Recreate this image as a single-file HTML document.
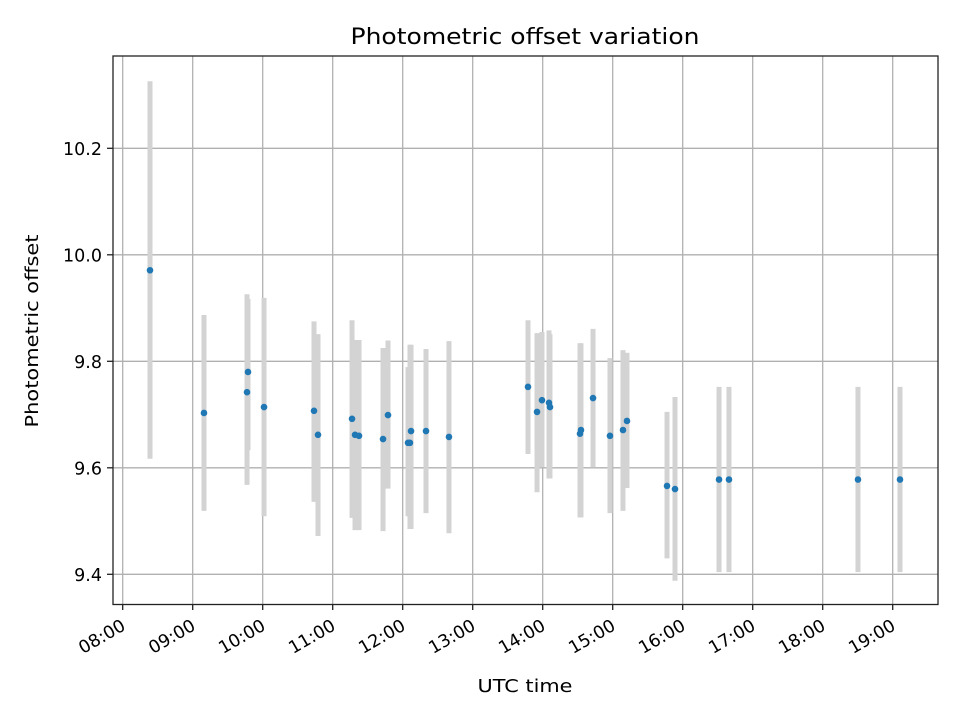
<!DOCTYPE html>
<html><head><meta charset="utf-8"><style>
body{margin:0;background:#fff;}
svg{display:block;font-family:"DejaVu Sans","Liberation Sans",sans-serif;}
</style></head><body>
<svg id="chart" width="960" height="720" viewBox="0 0 960 720">
<rect x="0" y="0" width="960" height="720" fill="#fff"/>
<g id="grid"></g>
<g id="bars"></g>
<g id="pts"></g>
<rect x="113" y="56" width="825" height="548.5" fill="none" stroke="#222" stroke-width="1.3"/>
<g id="xt"></g>
<g id="yt"></g>
<text x="525" y="44" font-size="22" text-anchor="middle" textLength="349" lengthAdjust="spacingAndGlyphs">Photometric offset variation</text>
<text x="525" y="692" font-size="18" text-anchor="middle" textLength="95" lengthAdjust="spacingAndGlyphs">UTC time</text>
<text transform="translate(38,331) rotate(-90)" font-size="18" text-anchor="middle" textLength="193" lengthAdjust="spacingAndGlyphs">Photometric offset</text>
</svg>
<script>
const times=[8.390,9.161,9.776,9.790,10.019,10.733,10.790,11.276,11.319,11.376,11.719,11.790,12.076,12.104,12.119,12.333,12.661,13.790,13.919,13.990,14.090,14.104,14.533,14.547,14.719,14.961,15.147,15.204,15.776,15.890,16.519,16.661,18.504,19.104];
const offsets=[9.971,9.703,9.742,9.780,9.714,9.707,9.662,9.692,9.662,9.660,9.654,9.699,9.647,9.647,9.669,9.669,9.658,9.752,9.705,9.727,9.722,9.714,9.664,9.671,9.731,9.660,9.671,9.688,9.566,9.560,9.578,9.578,9.578,9.578];
const lows=[9.617,9.519,9.568,9.633,9.509,9.536,9.472,9.506,9.483,9.483,9.481,9.561,9.509,9.485,9.485,9.515,9.477,9.626,9.554,9.601,9.580,9.580,9.507,9.507,9.601,9.515,9.519,9.562,9.430,9.388,9.404,9.404,9.404,9.404];
const highs=[10.326,9.887,9.926,9.917,9.919,9.875,9.851,9.877,9.840,9.840,9.825,9.839,9.789,9.831,9.831,9.823,9.838,9.877,9.853,9.855,9.858,9.851,9.834,9.834,9.861,9.806,9.821,9.816,9.705,9.733,9.752,9.752,9.752,9.752];
const xTickHours=[8,9,10,11,12,13,14,15,16,17,18,19];
const xTickLabels=["08:00","09:00","10:00","11:00","12:00","13:00","14:00","15:00","16:00","17:00","18:00","19:00"];
const yTicks=[9.4,9.6,9.8,10.0,10.2];
const yTickLabels=["9.4","9.6","9.8","10.0","10.2"];

const NS="http://www.w3.org/2000/svg";
function xs(h){return 122.7+(h-8)*70;}
function ys(v){return 254.8-(v-10)*532.5;}
function mk(tag,attrs,parent){const e=document.createElementNS(NS,tag);for(const k in attrs)e.setAttribute(k,attrs[k]);parent.appendChild(e);return e;}
const grid=document.getElementById('grid'),bars=document.getElementById('bars'),pts=document.getElementById('pts'),xt=document.getElementById('xt'),yt=document.getElementById('yt');
xTickHours.forEach((h,i)=>{
  const x=xs(h);
  const g=mk('line',{x1:x,x2:x,y1:56,y2:604.5,stroke:'#b0b0b0','stroke-width':1.3},grid);
  
  
  const t=mk('line',{x1:x,x2:x,y1:604.5,y2:610,stroke:'#222','stroke-width':1.3},xt);
  
  
  const l=mk('text',{x:0,y:0,'font-size':17.5,'text-anchor':'end',transform:`translate(${x+4},629) rotate(-30)`},xt);
  l.textContent=xTickLabels[i];
  
  
});
yTicks.forEach((v,i)=>{
  const y=ys(v);
  const g=mk('line',{x1:113,x2:938,y1:y,y2:y,stroke:'#b0b0b0','stroke-width':1.3},grid);
  
  
  const t=mk('line',{x1:107,x2:113,y1:y,y2:y,stroke:'#222','stroke-width':1.3},yt);
  
  
  const l=mk('text',{x:102,y:y+6.5,'font-size':17.5,'text-anchor':'end'},yt);
  l.textContent=yTickLabels[i];
  
  
});
times.forEach((h,i)=>{
  const x=xs(h);
  const b=mk('line',{x1:x,x2:x,y1:ys(highs[i]),y2:ys(lows[i]),stroke:'#d3d3d3','stroke-width':5},bars);
  
  
});
times.forEach((h,i)=>{
  const c=mk('circle',{cx:xs(h),cy:ys(offsets[i]),r:3.3,fill:'#1f77b4'},pts);
  
  
});
</script>
</body></html>
